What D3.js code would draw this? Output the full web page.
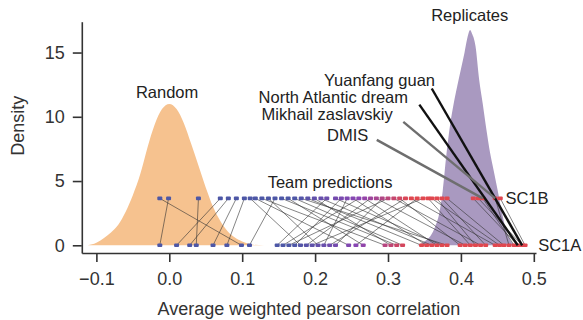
<!DOCTYPE html>
<html>
<head>
<meta charset="utf-8">
<script src="https://cdn.jsdelivr.net/npm/d3@7"></script>
<style>
  body { margin: 0; background: #fff; }
  svg { display: block; font-family: "Liberation Sans", Arial, Helvetica, sans-serif; }
</style>
</head>
<body>
<svg id="chart" width="583" height="320"></svg>
<script>
// density curves
const randomX = [-0.112, -0.10, -0.09, -0.08, -0.07, -0.06, -0.05, -0.04, -0.03, -0.02, -0.01, 0.0, 0.01, 0.02, 0.03, 0.04, 0.05, 0.06, 0.07, 0.08, 0.09, 0.10, 0.115, 0.13]
const randomY = [0, 0.2, 0.55, 1.0, 1.6, 2.6, 3.9, 5.5, 7.6, 9.4, 10.6, 11.0, 10.6, 9.5, 7.9, 6.2, 4.5, 3.0, 1.9, 1.1, 0.6, 0.3, 0.05, 0]
const replicateX = [0.340, 0.350, 0.358, 0.365, 0.370, 0.375, 0.380, 0.385, 0.390, 0.395, 0.400, 0.405, 0.410, 0.4125, 0.415, 0.420, 0.425, 0.430, 0.435, 0.440, 0.445, 0.450, 0.455, 0.460, 0.465, 0.470, 0.476]
const replicateY = [0, 0.3, 0.7, 1.5, 2.4, 4.2, 7.0, 9.3, 11.0, 12.4, 13.7, 15.0, 16.4, 16.75, 16.5, 15.5, 12.9, 11.0, 9.0, 7.2, 5.8, 4.4, 2.9, 1.6, 0.7, 0.2, 0]

// team scores, one entry per team (same order in both)
const sc1a = [-0.013, 0.099, 0.037, 0.028, 0.060, 0.010, 0.079, 0.148, 0.110, 0.246, 0.156, 0.296, 0.164, 0.204, 0.188, 0.180,
    0.312, 0.172, 0.320, 0.220, 0.266, 0.196, 0.346, 0.212, 0.256, 0.304, 0.228, 0.360, 0.353, 0.381, 0.367, 0.399,
    0.374, 0.413, 0.406, 0.427, 0.420, 0.447, 0.434, 0.453, 0.459, 0.466, 0.473, 0.478, 0.484, 0.488]
const sc1b = [-0.001, -0.013, 0.040, 0.081, 0.092, 0.070, 0.103, 0.216, 0.145, 0.118, 0.260, 0.127, 0.300, 0.136, 0.276, 0.111,
    0.154, 0.236, 0.172, 0.324, 0.163, 0.348, 0.190, 0.244, 0.340, 0.199, 0.292, 0.208, 0.252, 0.181, 0.268, 0.316,
    0.228, 0.355, 0.284, 0.308, 0.367, 0.332, 0.374, 0.360, 0.381, 0.447, 0.430, 0.417, 0.424, 0.454]

const xTicks = [-0.1, 0, 0.1, 0.2, 0.3, 0.4, 0.5]
const yTicks = [0, 5, 10, 15]

// named teams: index into team arrays, which row the pointer goes to
const hlNames = ['Yuanfang guan', 'North Atlantic dream', 'Mikhail zaslavskiy', 'DMIS']
const hlTeam = [44, 43, 41, 42]
const hlRow = ['SC1A', 'SC1A', 'SC1B', 'SC1B']
const hlColor = ['#111', '#111', '#6e6e6e', '#6e6e6e']
// label end (x, density at baseline) and pointer start, in data units
const hlLabelX = [0.3645, 0.3275, 0.3065, 0.273]
const hlLabelY = [12.4, 11.1, 9.76, 8.1]
const hlFromX = [0.360, 0.343, 0.321, 0.2846]
const hlFromY = [12.2, 10.95, 9.6, 8.2]

const rowY = { SC1A: 0, SC1B: 3.65 }

const svg = d3.select('#chart')
const x = d3.scaleLinear().domain([-0.12, 0.503]).range([81.8, 536])
const y = d3.scaleLinear().domain([-0.6, 17.4]).range([253, 21.7])

const col = d3.scaleLinear()
    .domain([0.17, 0.26, 0.33])
    .range(['#4d57a6', '#8a45b3', '#e0474f'])
    .clamp(true)

const area = d3.area()
    .x(d => x(d[0]))
    .y0(y(0))
    .y1(d => y(d[1]))
    .curve(d3.curveMonotoneX)

svg.append('path')
    .datum(d3.zip(randomX, randomY))
    .attr('d', area)
    .attr('fill', '#f6c28f')

svg.append('path')
    .datum(d3.zip(replicateX, replicateY))
    .attr('d', area)
    .attr('fill', '#a999c0')

// team lines SC1B -> SC1A
svg.append('g').selectAll('line')
    .data(d3.range(sc1a.length))
    .join('line')
    .attr('x1', i => x(sc1b[i]))
    .attr('y1', y(rowY.SC1B))
    .attr('x2', i => x(sc1a[i]))
    .attr('y2', y(rowY.SC1A))
    .attr('stroke', '#333')
    .attr('stroke-opacity', 0.75)
    .attr('stroke-width', 0.8)

const dots = svg.append('g')
const drawRow = (vals, row) => {
    dots.selectAll('rect.' + row)
        .data(vals)
        .join('rect')
        .attr('class', row)
        .attr('x', d => x(d) - 2.5)
        .attr('y', y(rowY[row]) - 1.8)
        .attr('width', 5)
        .attr('height', 3.6)
        .attr('rx', 1)
        .attr('fill', d => col(d))
}
drawRow(sc1b, 'SC1B')
drawRow(sc1a, 'SC1A')

// axes
svg.append('g')
    .attr('transform', `translate(${x.range()[0]},0)`)
    .call(d3.axisLeft(y).tickValues(yTicks).tickSize(9).tickSizeOuter(0).tickPadding(8))
svg.append('g')
    .attr('transform', `translate(0,${y.range()[0]})`)
    .call(d3.axisBottom(x).tickValues(xTicks).tickSize(9).tickSizeOuter(0).tickPadding(10).tickFormat(d3.format('.1f')))

svg.selectAll('.domain, .tick line').attr('stroke', '#333').attr('stroke-width', 1.6)
svg.selectAll('.tick text').attr('fill', '#333').style('font-size', '18px')

svg.append('text')
    .attr('x', (x.range()[0] + x.range()[1]) / 2)
    .attr('y', 315)
    .attr('text-anchor', 'middle')
    .attr('fill', '#333')
    .style('font-size', '18px')
    .text('Average weighted pearson correlation')

svg.append('text')
    .attr('transform', `translate(24,${y(9.3)}) rotate(-90)`)
    .attr('text-anchor', 'middle')
    .attr('fill', '#333')
    .style('font-size', '18px')
    .text('Density')

// annotations
const note = (tx, ty, str, anchor) => svg.append('text')
    .attr('x', x(tx))
    .attr('y', y(ty))
    .attr('text-anchor', anchor)
    .attr('fill', '#222')
    .style('font-size', '16.5px')
    .text(str)

note(-0.003, 11.5, 'Random', 'middle')
note(0.412, 17.45, 'Replicates', 'middle')
note(0.2205, 4.46, 'Team predictions', 'middle')
note(0.461, rowY.SC1B - 0.45, 'SC1B', 'start')
note(0.506, rowY.SC1A - 0.45, 'SC1A', 'start')

hlNames.forEach((nm, i) => {
    const t = hlTeam[i]
    const tv = hlRow[i] === 'SC1A' ? sc1a[t] : sc1b[t]
    svg.append('line')
        .attr('x1', x(hlFromX[i]))
        .attr('y1', y(hlFromY[i]))
        .attr('x2', x(tv))
        .attr('y2', y(rowY[hlRow[i]]))
        .attr('stroke', hlColor[i])
        .attr('stroke-width', 2.4)
    note(hlLabelX[i], hlLabelY[i], nm, 'end')
})
</script>
</body>
</html>
